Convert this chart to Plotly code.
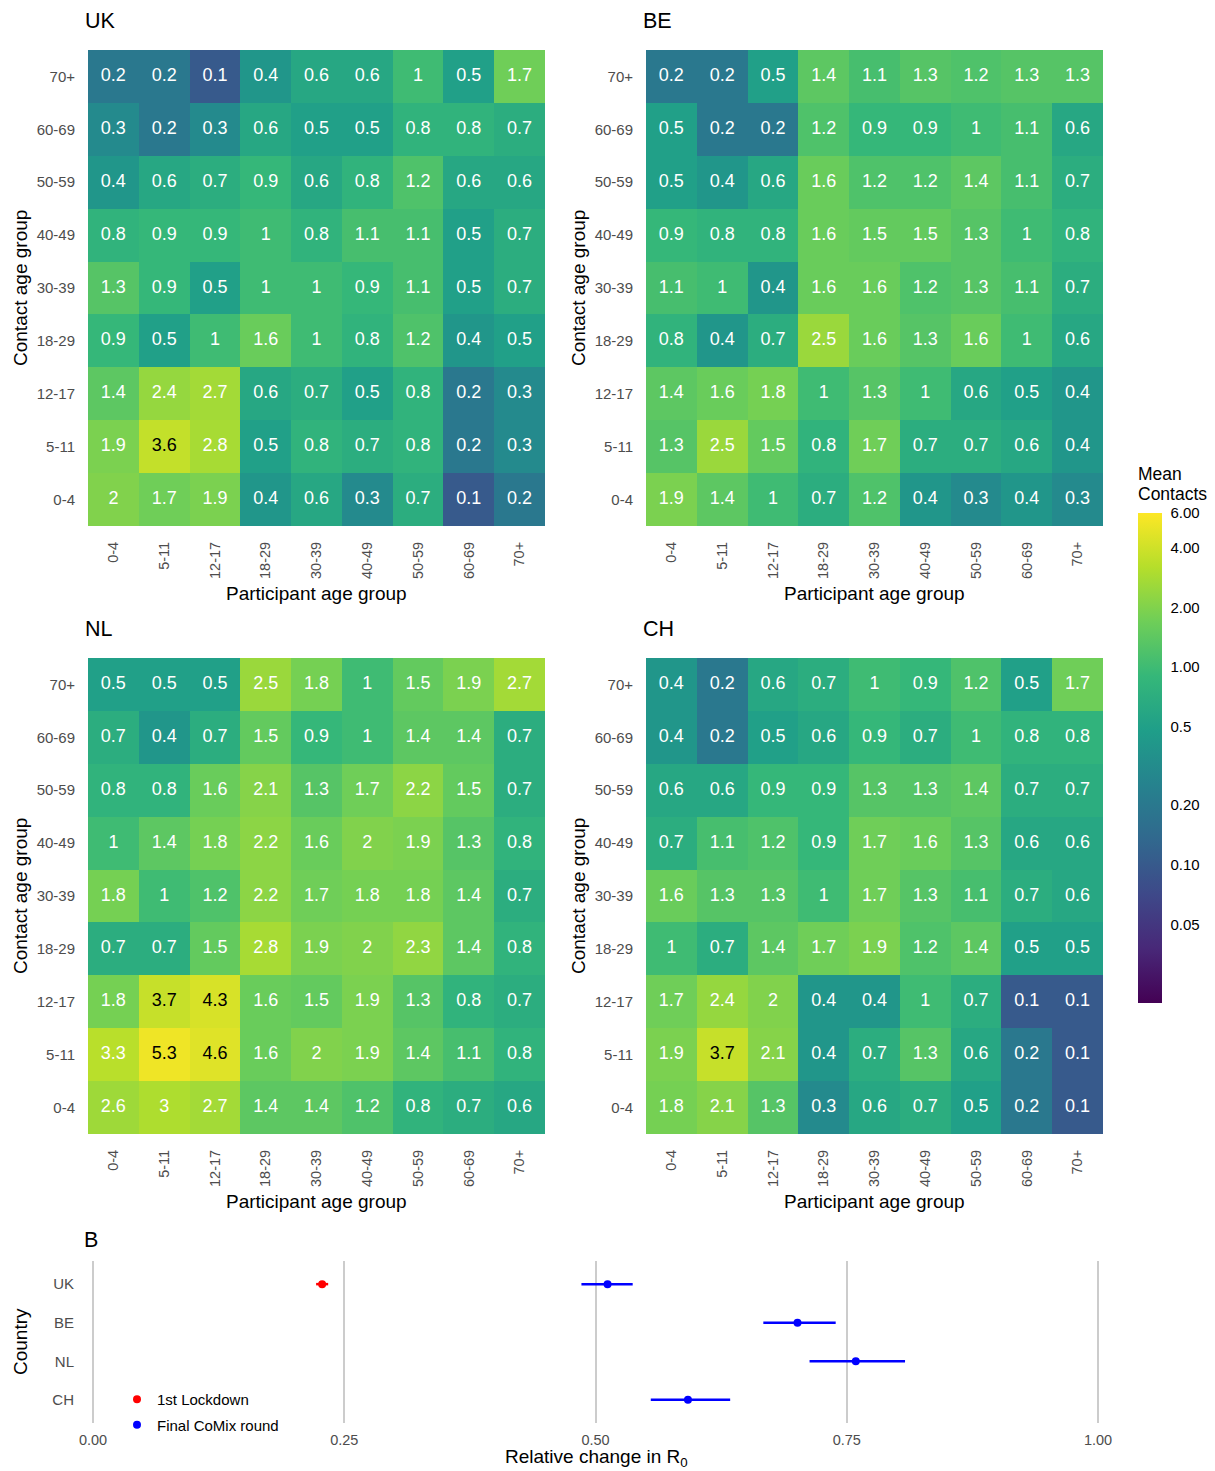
import numpy as np
import plotly.graph_objects as go

age_groups = ["0-4", "5-11", "12-17", "18-29", "30-39", "40-49", "50-59", "60-69", "70+"]

# Rows: contact age group, listed from 70+ (top row) down to 0-4 (bottom row)
# Columns: participant age group 0-4 ... 70+
uk_contacts = [
    [0.2, 0.2, 0.1, 0.4, 0.6, 0.6, 1.0, 0.5, 1.7],
    [0.3, 0.2, 0.3, 0.6, 0.5, 0.5, 0.8, 0.8, 0.7],
    [0.4, 0.6, 0.7, 0.9, 0.6, 0.8, 1.2, 0.6, 0.6],
    [0.8, 0.9, 0.9, 1.0, 0.8, 1.1, 1.1, 0.5, 0.7],
    [1.3, 0.9, 0.5, 1.0, 1.0, 0.9, 1.1, 0.5, 0.7],
    [0.9, 0.5, 1.0, 1.6, 1.0, 0.8, 1.2, 0.4, 0.5],
    [1.4, 2.4, 2.7, 0.6, 0.7, 0.5, 0.8, 0.2, 0.3],
    [1.9, 3.6, 2.8, 0.5, 0.8, 0.7, 0.8, 0.2, 0.3],
    [2.0, 1.7, 1.9, 0.4, 0.6, 0.3, 0.7, 0.1, 0.2],
]
be_contacts = [
    [0.2, 0.2, 0.5, 1.4, 1.1, 1.3, 1.2, 1.3, 1.3],
    [0.5, 0.2, 0.2, 1.2, 0.9, 0.9, 1.0, 1.1, 0.6],
    [0.5, 0.4, 0.6, 1.6, 1.2, 1.2, 1.4, 1.1, 0.7],
    [0.9, 0.8, 0.8, 1.6, 1.5, 1.5, 1.3, 1.0, 0.8],
    [1.1, 1.0, 0.4, 1.6, 1.6, 1.2, 1.3, 1.1, 0.7],
    [0.8, 0.4, 0.7, 2.5, 1.6, 1.3, 1.6, 1.0, 0.6],
    [1.4, 1.6, 1.8, 1.0, 1.3, 1.0, 0.6, 0.5, 0.4],
    [1.3, 2.5, 1.5, 0.8, 1.7, 0.7, 0.7, 0.6, 0.4],
    [1.9, 1.4, 1.0, 0.7, 1.2, 0.4, 0.3, 0.4, 0.3],
]
nl_contacts = [
    [0.5, 0.5, 0.5, 2.5, 1.8, 1.0, 1.5, 1.9, 2.7],
    [0.7, 0.4, 0.7, 1.5, 0.9, 1.0, 1.4, 1.4, 0.7],
    [0.8, 0.8, 1.6, 2.1, 1.3, 1.7, 2.2, 1.5, 0.7],
    [1.0, 1.4, 1.8, 2.2, 1.6, 2.0, 1.9, 1.3, 0.8],
    [1.8, 1.0, 1.2, 2.2, 1.7, 1.8, 1.8, 1.4, 0.7],
    [0.7, 0.7, 1.5, 2.8, 1.9, 2.0, 2.3, 1.4, 0.8],
    [1.8, 3.7, 4.3, 1.6, 1.5, 1.9, 1.3, 0.8, 0.7],
    [3.3, 5.3, 4.6, 1.6, 2.0, 1.9, 1.4, 1.1, 0.8],
    [2.6, 3.0, 2.7, 1.4, 1.4, 1.2, 0.8, 0.7, 0.6],
]
ch_contacts = [
    [0.4, 0.2, 0.6, 0.7, 1.0, 0.9, 1.2, 0.5, 1.7],
    [0.4, 0.2, 0.5, 0.6, 0.9, 0.7, 1.0, 0.8, 0.8],
    [0.6, 0.6, 0.9, 0.9, 1.3, 1.3, 1.4, 0.7, 0.7],
    [0.7, 1.1, 1.2, 0.9, 1.7, 1.6, 1.3, 0.6, 0.6],
    [1.6, 1.3, 1.3, 1.0, 1.7, 1.3, 1.1, 0.7, 0.6],
    [1.0, 0.7, 1.4, 1.7, 1.9, 1.2, 1.4, 0.5, 0.5],
    [1.7, 2.4, 2.0, 0.4, 0.4, 1.0, 0.7, 0.1, 0.1],
    [1.9, 3.7, 2.1, 0.4, 0.7, 1.3, 0.6, 0.2, 0.1],
    [1.8, 2.1, 1.3, 0.3, 0.6, 0.7, 0.5, 0.2, 0.1],
]

colorbar_ticks = [0.05, 0.10, 0.20, 0.5, 1.00, 2.00, 4.00, 6.00]
colorbar_ticktext = ["0.05", "0.10", "0.20", "0.5", "1.00", "2.00", "4.00", "6.00"]

# Panel B: relative change in R0
countries = ["UK", "BE", "NL", "CH"]
lockdown_countries = ["UK"]
lockdown_r0 = [0.228]
lockdown_lo = [0.222]
lockdown_hi = [0.234]
final_r0 = [0.512, 0.701, 0.759, 0.592]
final_lo = [0.486, 0.667, 0.713, 0.555]
final_hi = [0.537, 0.739, 0.808, 0.634]
r0_ticks = [0.00, 0.25, 0.50, 0.75, 1.00]

# page body margin (8px) offsets the figure; lay out in screenshot pixels
OFF = 8
W, H = 1215 - 2 * OFF, 1471 - OFF
FONT = "Liberation Sans, Arial, sans-serif"
TICKGREY = "#4d4d4d"
TITLE_SIZE = 19


def fx(p):
    return (p - OFF) / W


def fy(p):
    return 1 - (p - OFF) / H


fig = go.Figure()

panels = [
    ("UK", uk_contacts, 88, 545, 50, 526),
    ("BE", be_contacts, 646, 1103, 50, 526),
    ("NL", nl_contacts, 88, 545, 658, 1134),
    ("CH", ch_contacts, 646, 1103, 658, 1134),
]

n = len(age_groups)
annotations = []
for i, (name, mat, x0, x1, y0, y1) in enumerate(panels, start=1):
    rows_bottom_up = mat[::-1]
    z = np.log10(np.array(rows_bottom_up))
    ax = "" if i == 1 else str(i)
    labels = [[f"{v:g}" for v in r] for r in rows_bottom_up]
    fig.add_trace(go.Heatmap(
        x=list(range(n)), y=list(range(n)), z=z,
        coloraxis="coloraxis", xaxis="x" + ax, yaxis="y" + ax,
        text=labels, hovertemplate="%{text}<extra></extra>",
    ))
    tx, ty, tt, tc = [], [], [], []
    for r, row in enumerate(rows_bottom_up):
        for c, v in enumerate(row):
            tx.append(c)
            ty.append(r)
            tt.append(f"{v:g}")
            tc.append("black" if v >= 3.5 else "white")
    fig.add_trace(go.Scatter(
        x=tx, y=ty, text=tt, mode="text",
        textfont=dict(color=tc, size=18, family=FONT),
        xaxis="x" + ax, yaxis="y" + ax, showlegend=False, hoverinfo="skip",
    ))
    fig.update_layout(**{
        "xaxis" + ax: dict(
            domain=[fx(x0), fx(x1)], range=[-0.5, n - 0.5], anchor="y" + ax,
            tickvals=list(range(n)), ticktext=age_groups, tickangle=-90,
            tickfont=dict(size=14.5, color=TICKGREY, family=FONT),
            showgrid=False, zeroline=False, showline=False, ticks="",
            ticklabelstandoff=12, automargin=False,
        ),
        "yaxis" + ax: dict(
            domain=[fy(y1), fy(y0)], range=[-0.5, n - 0.5], anchor="x" + ax,
            tickvals=list(range(n)), ticktext=age_groups,
            tickfont=dict(size=15, color=TICKGREY, family=FONT),
            showgrid=False, zeroline=False, showline=False, ticks="",
            ticklabelstandoff=12, automargin=False,
        ),
    })
    annotations.append(dict(
        text=name, x=fx(x0 - 5), y=fy(y0 - 15), xref="paper", yref="paper",
        xanchor="left", yanchor="bottom", showarrow=False,
        font=dict(size=21.5, color="black", family=FONT),
    ))
    annotations.append(dict(
        text="Participant age group", x=fx((x0 + x1) / 2), y=fy(y1 + 67),
        xref="paper", yref="paper", xanchor="center", yanchor="middle",
        showarrow=False, font=dict(size=TITLE_SIZE, color="black", family=FONT),
    ))
    annotations.append(dict(
        text="Contact age group", x=fx(x0 - 68), y=fy((y0 + y1) / 2),
        xref="paper", yref="paper", xanchor="center", yanchor="middle",
        textangle=-90, showarrow=False,
        font=dict(size=TITLE_SIZE, color="black", family=FONT),
    ))

# Panel B
cpos = {c: len(countries) - k for k, c in enumerate(countries)}
fig.add_trace(go.Scatter(
    x=lockdown_r0, y=[cpos[c] for c in lockdown_countries], mode="markers",
    name="1st Lockdown", legendgroup="a", marker=dict(color="red", size=8),
    error_x=dict(type="data", symmetric=False,
                 array=[h - m for h, m in zip(lockdown_hi, lockdown_r0)],
                 arrayminus=[m - l for m, l in zip(lockdown_r0, lockdown_lo)],
                 color="red", thickness=2.5, width=0),
    xaxis="x5", yaxis="y5",
))
fig.add_trace(go.Scatter(
    x=final_r0, y=[cpos[c] for c in countries], mode="markers",
    name="Final CoMix round", legendgroup="b", marker=dict(color="blue", size=8),
    error_x=dict(type="data", symmetric=False,
                 array=[h - m for h, m in zip(final_hi, final_r0)],
                 arrayminus=[m - l for m, l in zip(final_r0, final_lo)],
                 color="blue", thickness=2.5, width=0),
    xaxis="x5", yaxis="y5",
))

px0 = 93.0
px1 = 1098.0
unit = (px1 - px0)
dom_x0, dom_x1 = 88, 1103
fig.update_layout(
    xaxis5=dict(
        domain=[fx(dom_x0), fx(dom_x1)],
        range=[(dom_x0 - px0) / unit, (dom_x1 - px0) / unit],
        anchor="y5", tickvals=r0_ticks, ticktext=[f"{t:.2f}" for t in r0_ticks],
        tickfont=dict(size=14.5, color=TICKGREY, family=FONT),
        showgrid=True, gridcolor="#cccccc", gridwidth=2, zeroline=False,
        showline=False, ticks="", ticklabelstandoff=6, automargin=False,
    ),
    yaxis5=dict(
        domain=[fy(1423), fy(1261)], range=[0.4, len(countries) + 0.6],
        anchor="x5", tickvals=[cpos[c] for c in countries], ticktext=countries,
        tickfont=dict(size=15, color=TICKGREY, family=FONT),
        showgrid=False, zeroline=False, showline=False, ticks="",
        ticklabelstandoff=13, automargin=False,
    ),
)
annotations += [
    dict(text="B", x=fx(82), y=fy(1240), xref="paper", yref="paper",
         xanchor="left", yanchor="middle", showarrow=False,
         font=dict(size=21.5, color="black", family=FONT)),
    dict(text="Relative change in R<sub>0</sub>", x=fx(596), y=fy(1458),
         xref="paper", yref="paper", xanchor="center", yanchor="middle",
         showarrow=False, font=dict(size=TITLE_SIZE, color="black", family=FONT)),
    dict(text="Country", x=fx(20), y=fy(1342), xref="paper", yref="paper",
         xanchor="center", yanchor="middle", textangle=-90, showarrow=False,
         font=dict(size=TITLE_SIZE, color="black", family=FONT)),
    # colour bar title, two lines
    dict(text="Mean", x=fx(1136), y=fy(474), xref="paper", yref="paper",
         xanchor="left", yanchor="middle", showarrow=False,
         font=dict(size=17.5, color="black", family=FONT)),
    dict(text="Contacts", x=fx(1136), y=fy(494), xref="paper", yref="paper",
         xanchor="left", yanchor="middle", showarrow=False,
         font=dict(size=17.5, color="black", family=FONT)),
]

fig.update_layout(
    width=W, height=H,
    margin=dict(l=0, r=0, t=0, b=0, autoexpand=False),
    paper_bgcolor="white", plot_bgcolor="white",
    font=dict(family=FONT),
    annotations=annotations,
    coloraxis=dict(
        colorscale="Viridis",
        cmin=np.log10(0.02), cmax=np.log10(6),
        colorbar=dict(
            tickvals=list(np.log10(colorbar_ticks)), ticktext=colorbar_ticktext,
            tickfont=dict(size=15, color="black", family=FONT),
            ticks="outside", ticklen=6, tickcolor="white", tickwidth=1,
            thickness=24, lenmode="pixels", len=490,
            x=fx(1138), xanchor="left", y=fy(1003), yanchor="bottom",
            outlinewidth=0, xpad=0, ypad=0,
        ),
    ),
    legend=dict(
        x=fx(117), y=fy(1383), xanchor="left", yanchor="top",
        font=dict(size=15, color="black", family=FONT),
        bgcolor="rgba(0,0,0,0)", tracegroupgap=3, traceorder="grouped",
    ),
    showlegend=True,
)

fig.write_html("out.html")
